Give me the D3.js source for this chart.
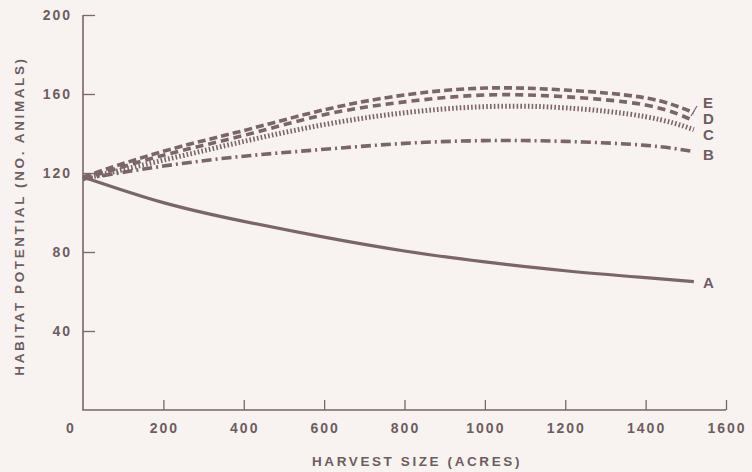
<!DOCTYPE html>
<html><head><meta charset="utf-8">
<script src="https://cdn.jsdelivr.net/npm/d3@7/dist/d3.min.js"></script>
<style>
html,body{margin:0;padding:0;background:#f8f3f1;}
svg{display:block;}
text{font-family:"Liberation Sans",Arial,sans-serif;fill:#6e5d60;}
</style></head>
<body>
<script>
// ---- data ----
const harvestSizes = [0, 200, 400, 600, 800, 1000, 1200, 1400, 1520];
const seriesNames = ["A", "B", "C", "D", "E"];
const seriesA = [118, 105, 95.5, 87.5, 80.5, 75, 70.5, 67, 65];
const seriesB = [117, 123.5, 128.5, 132, 135, 136.4, 136, 134, 130.8];
const seriesC = [117, 126.5, 136, 144.5, 150.5, 153.6, 153, 148.5, 142];
const seriesD = [117, 129, 139, 149.5, 156, 159.5, 158.6, 154.4, 146.5];
const seriesE = [118, 131, 141.5, 152, 159.5, 163, 162, 158, 150.5];
const xTicks = [200, 400, 600, 800, 1000, 1200, 1400, 1600];
const yTicks = [40, 80, 120, 160, 200];
const xTitle = "HARVEST SIZE (ACRES)";
const yTitle = "HABITAT POTENTIAL (NO. ANIMALS)";

const W = 752, H = 472;
const ink = "#7a6668";
const svg = d3.select("body").append("svg").attr("width", W).attr("height", H);

const x = d3.scaleLinear().domain([0, 1600]).range([83, 726]);
const y = d3.scaleLinear().domain([0, 200]).range([410, 15]);

// axes
const g = svg.append("g");
g.append("path").attr("d", `M${x(0)},${y(200)}V${y(0)}H${x(1600)}`)
  .attr("fill", "none").attr("stroke", ink).attr("stroke-width", 1.6);

const yAxis = d3.axisRight(y).tickValues(yTicks).tickSize(12).tickFormat("");
const ya = g.append("g").attr("transform", `translate(${x(0)},0)`).call(yAxis);
ya.select(".domain").remove();
ya.selectAll("line").attr("stroke", ink).attr("stroke-width", 1.3);

const xAxis = d3.axisTop(x).tickValues(xTicks).tickSize(10).tickFormat("");
const xa = g.append("g").attr("transform", `translate(0,${y(0)})`).call(xAxis);
xa.select(".domain").remove();
xa.selectAll("line").attr("stroke", ink).attr("stroke-width", 1.3);

// tick labels
g.selectAll(".yl").data(yTicks).join("text")
  .attr("x", 72).attr("y", d => y(d) + 5)
  .attr("text-anchor", "end").attr("font-size", 14).attr("letter-spacing", 2)
  .attr("font-weight", 600).text(d => d);
g.selectAll(".xl").data([0].concat(xTicks)).join("text")
  .attr("x", d => d === 0 ? 71 : x(d) + 1).attr("y", 433)
  .attr("text-anchor", "middle").attr("font-size", 14).attr("letter-spacing", 2)
  .attr("font-weight", 600).text(d => d);

// titles
svg.append("text").attr("x", 417).attr("y", 466).attr("text-anchor", "middle")
  .attr("font-size", 13.5).attr("letter-spacing", 2.6).attr("font-weight", 600).text(xTitle);
svg.append("text").attr("transform", "translate(24,216) rotate(-90)").attr("text-anchor", "middle")
  .attr("font-size", 13.5).attr("letter-spacing", 2.6).attr("font-weight", 600).text(yTitle);

// series
const data = [
  {name: "A", values: seriesA, dash: null, width: 3.2},
  {name: "B", values: seriesB, dash: "10,4,2,4", width: 3.6},
  {name: "C", values: seriesC, dash: "1.6,2.2", width: 5},
  {name: "D", values: seriesD, dash: "8,5", width: 3.6},
  {name: "E", values: seriesE, dash: "8,4", width: 3.6}
];
const line = d3.line().x((d, i) => x(harvestSizes[i])).y(d => y(d)).curve(d3.curveNatural);
svg.append("g").selectAll("path").data(data).join("path")
  .attr("d", d => line(d.values))
  .attr("fill", "none").attr("stroke", ink)
  .attr("stroke-width", d => d.width)
  .attr("stroke-dasharray", d => d.dash);

// end labels
const labelPos = {A: [703, 288], B: [703, 160], C: [703, 140], D: [703, 124], E: [703, 108]};
svg.append("g").selectAll("text").data(data).join("text")
  .attr("x", d => labelPos[d.name][0]).attr("y", d => labelPos[d.name][1])
  .attr("font-size", 15).attr("font-weight", 600).text(d => d.name);
// leader for E
svg.append("path").attr("d", "M691,116L697,106").attr("stroke", ink).attr("stroke-width", 1.2).attr("fill", "none");
</script>
</body></html>
